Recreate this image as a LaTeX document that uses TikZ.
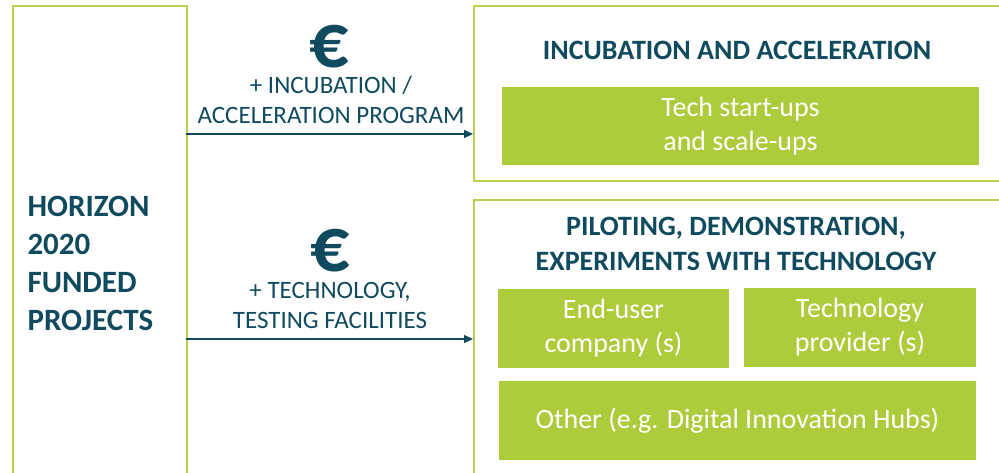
\documentclass[tikz,border=0pt]{standalone}
\usepackage{fontspec}
\setmainfont{Carlito}
\usetikzlibrary{arrows.meta}
\definecolor{dteal}{HTML}{0F4A5E}
\definecolor{lgreen}{HTML}{B6D24E}
\definecolor{mgreen}{HTML}{ACCC3C}
\tikzset{
  frame/.style={draw=lgreen, line width=1.6pt, inner sep=0pt},
  gbox/.style={fill=mgreen, text=white, align=center, inner sep=0pt, font=\fontsize{28}{34}\selectfont},
  ttl/.style={text=dteal, align=center, font=\bfseries\fontsize{28}{35}\selectfont},
  lbl/.style={text=dteal, align=center, inner sep=0pt, font=\fontsize{25}{30}\selectfont},
  euro/.style={text=dteal, inner sep=0pt, anchor=base, text height=38pt, text depth=0pt, font=\bfseries\fontsize{78}{78}\selectfont},
  arr/.style={draw=dteal, line width=1.3pt, -{Triangle[length=9pt,width=8pt]}}
}
\begin{document}
\begin{tikzpicture}[x=1pt,y=-1pt]
\useasboundingbox (0,0) rectangle (999,473);
\clip (0,0) rectangle (999,473);
% frames
\node[frame, minimum width=174pt, minimum height=520pt, anchor=north west] (left) at (12,5) {};
\node[frame, minimum width=540pt, minimum height=175pt, anchor=north west] (top) at (473,5) {};
\node[frame, minimum width=540pt, minimum height=300pt, anchor=north west] (bot) at (473,199) {};
% left text
\node[anchor=west, align=left, text=dteal, font=\bfseries\fontsize{31}{38}\selectfont] (horizon) at (24,263) {HORIZON\\2020\\FUNDED\\PROJECTS};
% arrows
\coordinate (a1) at (186,134);
\coordinate (a2) at (186,339);
\draw[arr] (a1) -- (a1 -| top.west);
\draw[arr] (a2) -- (a2 -| bot.west);
% arrow labels
\node[euro] (e1) at (329,68) {€};
\node[lbl] (l1) at (331,100) {+ INCUBATION /\\ACCELERATION PROGRAM};
\node[euro] (e2) at (330,272) {€};
\node[lbl] (l2) at (330,305) {+ TECHNOLOGY,\\TESTING FACILITIES};
% top section
\node[ttl] (t1) at (737,50) {INCUBATION AND ACCELERATION};
\node[gbox, minimum width=477pt, minimum height=78pt] (tech) at (740.5,126) {Tech start-ups\\and scale-ups};
% bottom section
\node[ttl] (t2) at (736,244) {PILOTING, DEMONSTRATION,\\EXPERIMENTS WITH TECHNOLOGY};
\node[gbox, minimum width=231pt, minimum height=79pt] (enduser) at (613.5,328.5) {End-user\\company (s)};
\node[gbox, minimum width=232pt, minimum height=79pt] (techprov) at (860,327.5) {Technology\\provider (s)};
\node[gbox, minimum width=477pt, minimum height=79pt] (other) at (737.5,420.5) {Other (e.g. Digital Innovation Hubs)};
\end{tikzpicture}
\end{document}
